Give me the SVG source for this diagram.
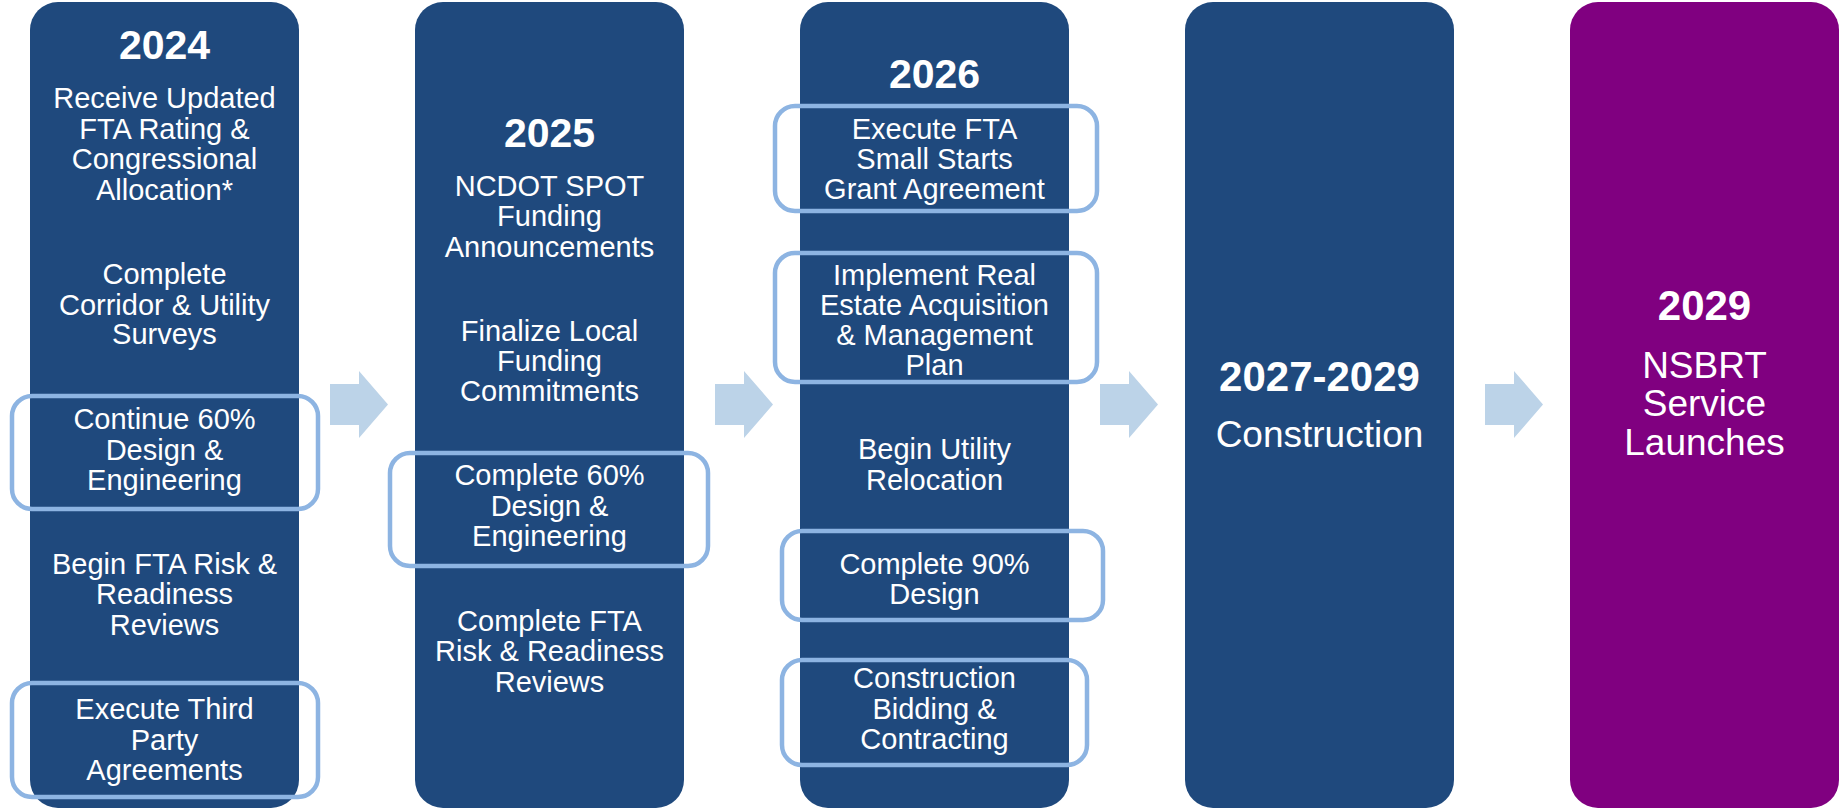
<svg xmlns="http://www.w3.org/2000/svg" width="1845" height="811" viewBox="0 0 1845 811">
<style>
.col{fill:#1F497D;}
.purple{fill:#800080;}
.hl{fill:none;stroke:#8DB4E2;stroke-width:4.5;}
.arrow{fill:#BCD3E8;}
text{font-family:"Liberation Sans",Arial,sans-serif;fill:#FFFFFF;text-anchor:middle;}
.yr{font-size:41px;font-weight:bold;}
.t{font-size:29px;}
.big{font-size:37px;}
.yr2{font-size:42px;font-weight:bold;}
</style>
<rect width="1845" height="811" fill="#FFFFFF"/>
<g id="connectors">
<polygon class="arrow" points="330,384 359,384 359,371 388,404.5 359,438 359,425 330,425"/>
<polygon class="arrow" points="715,384 744,384 744,371 773,404.5 744,438 744,425 715,425"/>
<polygon class="arrow" points="1100,384 1129,384 1129,371 1158,404.5 1129,438 1129,425 1100,425"/>
<polygon class="arrow" points="1485,384 1514,384 1514,371 1543,404.5 1514,438 1514,425 1485,425"/>
</g>
<g id="col2024">
<rect class="col" x="30" y="2" width="269" height="806" rx="28"/>
<text class="yr" x="164.5" y="59">2024</text>
<text class="t" x="164.5" y="108.3">Receive Updated</text>
<text class="t" x="164.5" y="138.7">FTA Rating &amp;</text>
<text class="t" x="164.5" y="169.1">Congressional</text>
<text class="t" x="164.5" y="199.5">Allocation*</text>
<text class="t" x="164.5" y="284.3">Complete</text>
<text class="t" x="164.5" y="314.5">Corridor &amp; Utility</text>
<text class="t" x="164.5" y="344">Surveys</text>
<text class="t" x="164.5" y="429.3">Continue 60%</text>
<text class="t" x="164.5" y="459.7">Design &amp;</text>
<text class="t" x="164.5" y="490">Engineering</text>
<text class="t" x="164.5" y="574">Begin FTA Risk &amp;</text>
<text class="t" x="164.5" y="604.3">Readiness</text>
<text class="t" x="164.5" y="634.7">Reviews</text>
<text class="t" x="164.5" y="719.3">Execute Third</text>
<text class="t" x="164.5" y="749.7">Party</text>
<text class="t" x="164.5" y="780">Agreements</text>
<rect class="hl" x="12" y="396" width="306" height="113" rx="20"/>
<rect class="hl" x="12" y="683" width="306" height="114" rx="20"/>
</g>
<g id="col2025">
<rect class="col" x="415" y="2" width="269" height="806" rx="28"/>
<text class="yr" x="549.5" y="146.7">2025</text>
<text class="t" x="549.5" y="196">NCDOT SPOT</text>
<text class="t" x="549.5" y="226.4">Funding</text>
<text class="t" x="549.5" y="256.8">Announcements</text>
<text class="t" x="549.5" y="340.7">Finalize Local</text>
<text class="t" x="549.5" y="371">Funding</text>
<text class="t" x="549.5" y="401.4">Commitments</text>
<text class="t" x="549.5" y="485">Complete 60%</text>
<text class="t" x="549.5" y="515.5">Design &amp;</text>
<text class="t" x="549.5" y="546">Engineering</text>
<text class="t" x="549.5" y="631">Complete FTA</text>
<text class="t" x="549.5" y="661.4">Risk &amp; Readiness</text>
<text class="t" x="549.5" y="691.8">Reviews</text>
<rect class="hl" x="390" y="453" width="318" height="113" rx="20"/>
</g>
<g id="col2026">
<rect class="col" x="800" y="2" width="269" height="806" rx="28"/>
<text class="yr" x="934.5" y="88.3">2026</text>
<text class="t" x="934.5" y="139.3">Execute FTA</text>
<text class="t" x="934.5" y="169.4">Small Starts</text>
<text class="t" x="934.5" y="199">Grant Agreement</text>
<text class="t" x="934.5" y="285">Implement Real</text>
<text class="t" x="934.5" y="314.5">Estate Acquisition</text>
<text class="t" x="934.5" y="344.5">&amp; Management</text>
<text class="t" x="934.5" y="374.5">Plan</text>
<text class="t" x="934.5" y="459.3">Begin Utility</text>
<text class="t" x="934.5" y="490">Relocation</text>
<text class="t" x="934.5" y="574">Complete 90%</text>
<text class="t" x="934.5" y="603.5">Design</text>
<text class="t" x="934.5" y="688.3">Construction</text>
<text class="t" x="934.5" y="718.5">Bidding &amp;</text>
<text class="t" x="934.5" y="748.5">Contracting</text>
<rect class="hl" x="775" y="106" width="322" height="105" rx="20"/>
<rect class="hl" x="775" y="253" width="322" height="129" rx="20"/>
<rect class="hl" x="782" y="531" width="321" height="89" rx="20"/>
<rect class="hl" x="782" y="660" width="305" height="105" rx="20"/>
</g>
<g id="col2027">
<rect class="col" x="1185" y="2" width="269" height="806" rx="28"/>
<text class="yr2" x="1319.5" y="391">2027-2029</text>
<text class="big" x="1319.5" y="447">Construction</text>
</g>
<g id="col2029">
<rect class="purple" x="1570" y="2" width="269" height="806" rx="28"/>
<text class="yr2" x="1704.5" y="320">2029</text>
<text class="big" x="1704.5" y="378">NSBRT</text>
<text class="big" x="1704.5" y="416">Service</text>
<text class="big" x="1704.5" y="455">Launches</text>
</g>
</svg>
